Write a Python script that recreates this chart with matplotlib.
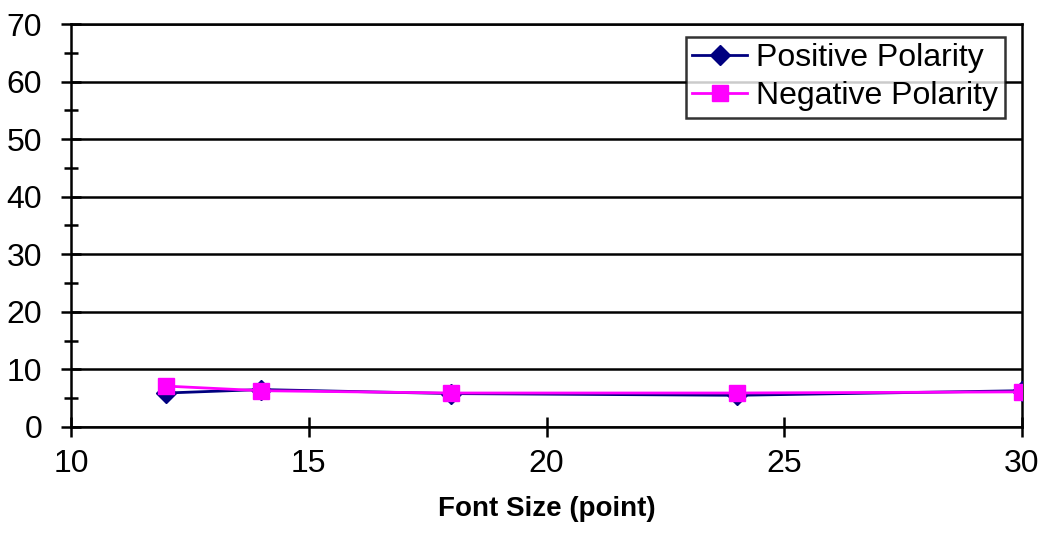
import matplotlib
matplotlib.use('Agg')
import matplotlib.pyplot as plt
from matplotlib.ticker import MultipleLocator

plt.rcParams['font.family'] = ['Liberation Sans', 'DejaVu Sans']

font_size = [12, 14, 18, 24, 30]
positive = [5.9, 6.5, 5.8, 5.5, 6.3]
negative = [7.1, 6.3, 5.9, 5.9, 6.1]

fig = plt.figure(figsize=(10.47, 5.46), dpi=100)
ax = fig.add_axes([0.068, 0.218, 0.908, 0.738])

ax.plot(font_size, positive, color='#000080', marker='D', markersize=10,
        linewidth=2, label='Positive Polarity', zorder=3)
ax.plot(font_size, negative, color='#ff00ff', marker='s', markersize=12,
        linewidth=2, label='Negative Polarity', zorder=4)

ax.set_xlim(10, 30)
ax.set_ylim(0, 70)
ax.xaxis.set_major_locator(MultipleLocator(5))
ax.yaxis.set_major_locator(MultipleLocator(10))
ax.yaxis.set_minor_locator(MultipleLocator(5))
ax.grid(axis='y', which='major', color='black', linewidth=1.8)
ax.set_axisbelow(True)

ax.tick_params(axis='both', which='both', direction='inout', width=1.8,
               labelsize=23, colors='black')
ax.tick_params(axis='both', which='major', length=14, pad=9)
ax.tick_params(axis='y', which='major', pad=14)
ax.tick_params(axis='y', which='minor', length=10)
for s in ax.spines.values():
    s.set_linewidth(1.8)

ax.set_xlabel('Font Size (point)', fontsize=20, fontweight='bold', labelpad=12)

leg = ax.legend(loc='upper right', bbox_to_anchor=(0.982, 0.968), fontsize=23,
                frameon=True, fancybox=False, edgecolor='black',
                handlelength=1.7, handletextpad=0.3, borderpad=0.2,
                labelspacing=0.25, borderaxespad=0)
leg.get_frame().set_linewidth(1.8)

fig.savefig('out.png', dpi=100)
